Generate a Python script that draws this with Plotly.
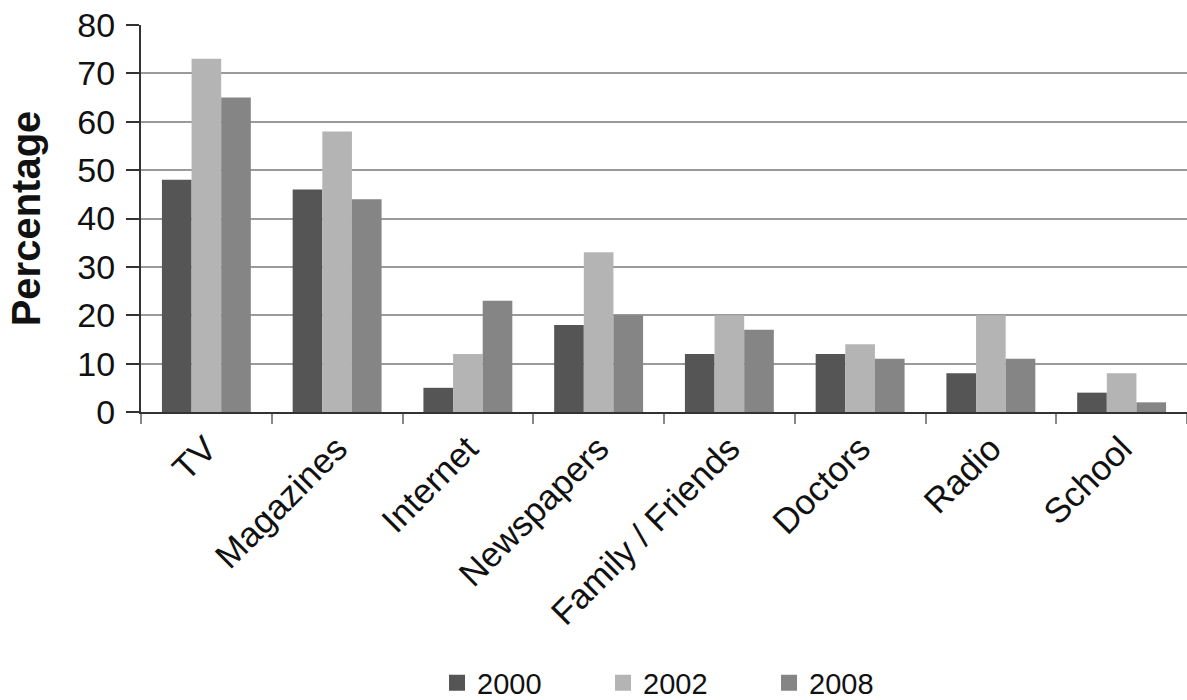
import plotly.graph_objects as go

categories = ["TV", "Magazines", "Internet", "Newspapers", "Family / Friends",
              "Doctors", "Radio", "School"]
years = ["2000", "2002", "2008"]
values_2000 = [48, 46, 5, 18, 12, 12, 8, 4]
values_2002 = [73, 58, 12, 33, 20, 14, 20, 8]
values_2008 = [65, 44, 23, 20, 17, 11, 11, 2]
y_ticks = [0, 10, 20, 30, 40, 50, 60, 70, 80]

series = [values_2000, values_2002, values_2008]
colors = ["#555555", "#b4b4b4", "#858585"]

fig = go.Figure()
for name, vals, col in zip(years, series, colors):
    fig.add_trace(go.Bar(
        x=categories, y=vals, name=name, legendgroup=name, showlegend=False,
        marker=dict(color=col, line=dict(width=0)),
    ))
    # legend key drawn as a larger square swatch
    fig.add_trace(go.Scatter(
        x=[None], y=[None], mode="markers", name=name, legendgroup=name,
        marker=dict(symbol="square", size=19, color=col),
    ))

font_family = "Liberation Sans, Arial, sans-serif"

fig.update_layout(
    width=1187, height=700,
    margin=dict(l=141, r=0, t=25, b=288, autoexpand=False),
    paper_bgcolor="white", plot_bgcolor="white",
    barmode="group", bargap=0.32, bargroupgap=0,
    font=dict(family=font_family, color="#111111"),
    showlegend=True,
    legend=dict(
        orientation="h", x=0.283, xanchor="left",
        y=-0.700, yanchor="middle",
        font=dict(size=29, color="#111111"),
        itemwidth=30, entrywidth=121, traceorder="normal",
        itemsizing="trace",
    ),
    xaxis=dict(
        type="category", automargin=False,
        tickangle=-45,
        tickfont=dict(size=35, color="#111111"),
        showline=True, linecolor="#333333", linewidth=2,
        ticks="outside", tickson="boundaries", ticklen=10,
        tickcolor="#888888", tickwidth=2,
        showgrid=False,
    ),
    yaxis=dict(
        range=[0, 80], automargin=False,
        tickvals=y_ticks,
        tickfont=dict(size=34, color="#111111"),
        ticklabelstandoff=4,
        title=dict(text="<b>Percentage</b>", font=dict(size=40, color="#111111"),
                   standoff=24),
        showline=True, linecolor="#333333", linewidth=2,
        ticks="outside", ticklen=13, tickcolor="#333333", tickwidth=2,
        showgrid=True, gridcolor="#9a9a9a", gridwidth=2,
        zeroline=False,
    ),
)

fig.write_html("out.html")
